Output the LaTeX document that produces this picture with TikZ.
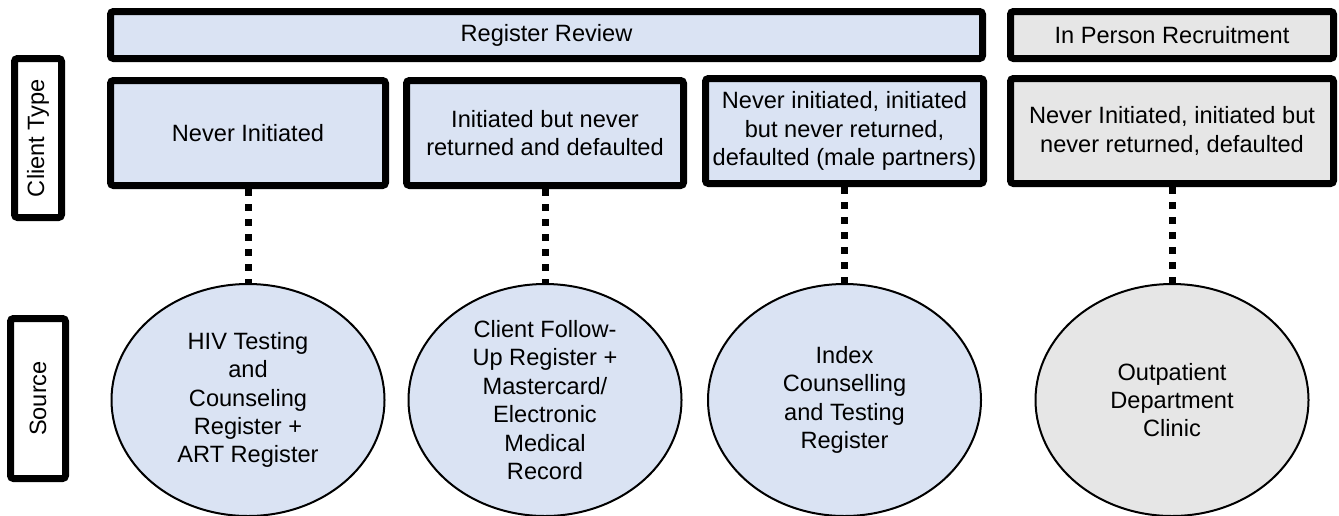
\documentclass[tikz,border=0pt]{standalone}
\usepackage{fontspec}
\setmainfont{Liberation Sans}
\usetikzlibrary{shapes.geometric}
\definecolor{regblue}{RGB}{218,227,243}
\definecolor{opdgray}{RGB}{230,230,230}

\begin{document}
\begin{tikzpicture}[x=0.5pt, y=-0.5pt,
	every node/.style={font=\fontsize{11.8}{14.2}\selectfont, align=center, inner sep=0pt},
	headbox/.style={draw, line width=3.5pt, rounded corners=1.5pt, minimum height=23.5pt},
	typebox/.style={draw, line width=3.5pt, rounded corners=1.5pt, minimum height=52.5pt},
	sidebox/.style={draw, line width=3.5pt, rounded corners=1.5pt, rotate=90, minimum height=23.5pt},
	srcnode/.style={draw, ellipse, line width=1pt, inner ysep=-2pt, minimum width=136.5pt, minimum height=116pt},
	link/.style={line width=3.5pt, dash pattern=on 3.5pt off 4pt}]
	\useasboundingbox (0,0) rectangle (1339,515);
	% row headings on the left
	\node[sidebox, minimum width=79.5pt] (clienttype) at (38,138) {Client Type};
	\node[sidebox, minimum width=80pt, minimum height=27.5pt] (source) at (38,398.5) {Source};
	% recruitment strategies
	\node[headbox, fill=regblue, minimum width=436pt] (review) at (546.5,35) {Register Review};
	\node[headbox, fill=opdgray, minimum width=161.5pt] (inperson) at (1172,35) {In Person Recruitment};
	% client types
	\node[typebox, fill=regblue, minimum width=137.5pt] (never) at (248,133) {Never Initiated};
	\node[typebox, fill=regblue, minimum width=138.5pt] (returned) at (545,133) {Initiated but never\\returned and defaulted};
	\node[typebox, fill=regblue, minimum width=139pt] (partners) at (844.5,131) {Never initiated, initiated\\but never returned,\\defaulted (male partners)};
	\node[typebox, fill=opdgray, minimum width=161.5pt] (anytype) at (1172,131) {Never Initiated, initiated but\\never returned, defaulted};
	% data sources
	\node[srcnode, fill=regblue] (hts) at (248,400) {HIV Testing\\and\\Counseling\\Register +\\ART Register};
	\node[srcnode, fill=regblue] (followup) at (545,400) {Client Follow-\\Up Register +\\Mastercard/\\Electronic\\Medical\\Record};
	\node[srcnode, fill=regblue] (index) at (844.5,400) {Index\\Counselling\\and Testing\\Register};
	\node[srcnode, fill=opdgray] (opd) at (1172,400) {Outpatient\\Department\\Clinic};
	\foreach \a/\b in {never/hts, returned/followup, partners/index, anytype/opd}
		\draw[link] (\a.south) -- (\b.north);
\end{tikzpicture}
\end{document}
